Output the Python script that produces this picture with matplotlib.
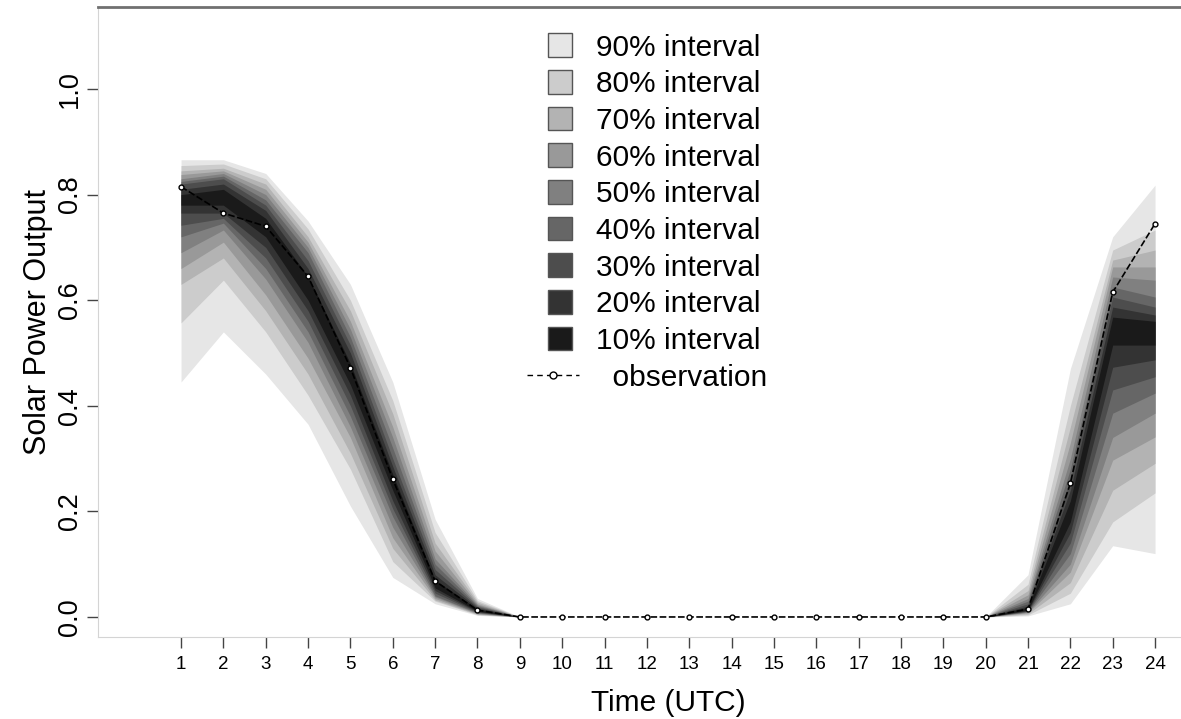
import numpy as np
import matplotlib.pyplot as plt
from matplotlib.patches import Rectangle
from matplotlib.lines import Line2D
from matplotlib.legend_handler import HandlerPatch

plt.rcParams['font.family'] = ['Liberation Sans', 'DejaVu Sans']

hours = list(range(1, 25))

# observed solar power output (normalised)
observation = [0.815, 0.765, 0.74, 0.645, 0.472, 0.261, 0.068, 0.013,
               0, 0, 0, 0, 0, 0, 0, 0, 0, 0, 0, 0,
               0.015, 0.253, 0.615, 0.745]

# forecast interval bounds, widest (90%) to narrowest (10%)
lo90 = [0.445, 0.54, 0.46, 0.365, 0.21, 0.075, 0.025, 0.003,
        0, 0, 0, 0, 0, 0, 0, 0, 0, 0, 0, 0, 0.002, 0.025, 0.135, 0.12]
hi90 = [0.866, 0.866, 0.84, 0.75, 0.63, 0.445, 0.185, 0.035,
        0, 0, 0, 0, 0, 0, 0, 0, 0, 0, 0, 0, 0.08, 0.47, 0.72, 0.818]
lo80 = [0.557, 0.638, 0.54, 0.42, 0.28, 0.105, 0.03, 0.004,
        0, 0, 0, 0, 0, 0, 0, 0, 0, 0, 0, 0, 0.004, 0.045, 0.18, 0.235]
hi80 = [0.855, 0.858, 0.83, 0.735, 0.60, 0.41, 0.16, 0.031,
        0, 0, 0, 0, 0, 0, 0, 0, 0, 0, 0, 0, 0.062, 0.40, 0.695, 0.733]
lo70 = [0.63, 0.68, 0.58, 0.46, 0.31, 0.13, 0.032, 0.005,
        0, 0, 0, 0, 0, 0, 0, 0, 0, 0, 0, 0, 0.006, 0.065, 0.24, 0.291]
hi70 = [0.845, 0.85, 0.82, 0.72, 0.58, 0.385, 0.14, 0.028,
        0, 0, 0, 0, 0, 0, 0, 0, 0, 0, 0, 0, 0.05, 0.36, 0.676, 0.695]
lo60 = [0.66, 0.71, 0.61, 0.49, 0.34, 0.15, 0.035, 0.006,
        0, 0, 0, 0, 0, 0, 0, 0, 0, 0, 0, 0, 0.008, 0.085, 0.297, 0.341]
hi60 = [0.838, 0.845, 0.81, 0.71, 0.56, 0.36, 0.125, 0.025,
        0, 0, 0, 0, 0, 0, 0, 0, 0, 0, 0, 0, 0.042, 0.33, 0.663, 0.663]
lo50 = [0.69, 0.733, 0.64, 0.52, 0.36, 0.17, 0.038, 0.007,
        0, 0, 0, 0, 0, 0, 0, 0, 0, 0, 0, 0, 0.009, 0.10, 0.34, 0.386]
hi50 = [0.83, 0.84, 0.80, 0.70, 0.545, 0.34, 0.11, 0.023,
        0, 0, 0, 0, 0, 0, 0, 0, 0, 0, 0, 0, 0.035, 0.30, 0.644, 0.638]
lo40 = [0.72, 0.746, 0.66, 0.54, 0.38, 0.19, 0.04, 0.008,
        0, 0, 0, 0, 0, 0, 0, 0, 0, 0, 0, 0, 0.010, 0.12, 0.386, 0.424]
hi40 = [0.825, 0.835, 0.79, 0.69, 0.53, 0.32, 0.10, 0.021,
        0, 0, 0, 0, 0, 0, 0, 0, 0, 0, 0, 0, 0.03, 0.28, 0.625, 0.606]
lo30 = [0.742, 0.755, 0.68, 0.56, 0.40, 0.205, 0.045, 0.009,
        0, 0, 0, 0, 0, 0, 0, 0, 0, 0, 0, 0, 0.011, 0.14, 0.43, 0.455]
hi30 = [0.82, 0.83, 0.78, 0.675, 0.515, 0.30, 0.09, 0.019,
        0, 0, 0, 0, 0, 0, 0, 0, 0, 0, 0, 0, 0.025, 0.26, 0.606, 0.587]
lo20 = [0.765, 0.765, 0.70, 0.58, 0.42, 0.22, 0.05, 0.010,
        0, 0, 0, 0, 0, 0, 0, 0, 0, 0, 0, 0, 0.012, 0.16, 0.473, 0.487]
hi20 = [0.81, 0.82, 0.77, 0.66, 0.50, 0.285, 0.08, 0.017,
        0, 0, 0, 0, 0, 0, 0, 0, 0, 0, 0, 0, 0.021, 0.24, 0.587, 0.572]
lo10 = [0.78, 0.78, 0.72, 0.60, 0.44, 0.24, 0.055, 0.011,
        0, 0, 0, 0, 0, 0, 0, 0, 0, 0, 0, 0, 0.013, 0.18, 0.515, 0.515]
hi10 = [0.80, 0.81, 0.755, 0.645, 0.48, 0.27, 0.07, 0.015,
        0, 0, 0, 0, 0, 0, 0, 0, 0, 0, 0, 0, 0.018, 0.22, 0.568, 0.56]

levels = [90, 80, 70, 60, 50, 40, 30, 20, 10]
bounds = [(lo90, hi90), (lo80, hi80), (lo70, hi70), (lo60, hi60), (lo50, hi50),
          (lo40, hi40), (lo30, hi30), (lo20, hi20), (lo10, hi10)]
grays = [str(l / 100) for l in levels]   # gray(0.9) ... gray(0.1)


def square_patch(legend, orig_handle, xdescent, ydescent, width, height, fontsize):
    # small square swatch centred in the handle box
    s = 17
    return Rectangle((width / 2 - s / 2 - xdescent + 5, height / 2 - s / 2 - ydescent), s, s)


fig = plt.figure(figsize=(11.81, 7.19), dpi=100)
ax = fig.add_axes([0.083, 0.114, 0.9653, 0.876])

handles = []
for lev, (lo, hi), g in zip(levels, bounds, grays):
    ax.fill_between(hours, lo, hi, color=g, linewidth=0)
    handles.append(Rectangle((0, 0), 1, 1, facecolor=g, edgecolor='#555555',
                             linewidth=1, label='%d%% interval' % lev))

ax.plot(hours, observation, color='black', linewidth=1.2, linestyle=(0, (4, 1.5)),
        marker='o', markersize=3.5, markerfacecolor='white', markeredgecolor='black',
        markeredgewidth=1)
handles.append(Line2D([], [], color='black', linewidth=1, linestyle=(0, (4, 3)),
                      marker='o', markersize=5, markerfacecolor='white',
                      markeredgecolor='black', label='  observation'))

ax.set_xlim(-0.96, 25.96)
ax.set_ylim(-0.038, 1.155)
ax.set_xticks(hours)
ax.set_yticks([0.0, 0.2, 0.4, 0.6, 0.8, 1.0])
ax.set_yticklabels(['0.0', '0.2', '0.4', '0.6', '0.8', '1.0'], rotation=90, va='center')
ax.tick_params(axis='x', labelsize=13.5, length=8, width=1, color='#444444', pad=6)
ax.tick_params(axis='y', labelsize=19.5, length=8, width=1, color='#444444', pad=3)

for side in ['left', 'bottom']:
    ax.spines[side].set_color('#d4d4d4')
ax.spines['top'].set_color('#707070')
ax.spines['top'].set_linewidth(2)
ax.spines['right'].set_visible(False)

ax.set_xlabel('Time (UTC)', fontsize=21.5, labelpad=11)
ax.set_ylabel('Solar Power Output', fontsize=22, labelpad=3)

ax.legend(handles=handles, loc='upper left', bbox_to_anchor=(0.3765, 0.958),
          frameon=False, fontsize=21.5, borderpad=0, borderaxespad=0,
          handlelength=1.74, handleheight=0.7, handletextpad=0.57,
          labelspacing=0.29, numpoints=1,
          handler_map={Rectangle: HandlerPatch(patch_func=square_patch)})

plt.savefig('out.png', dpi=100)
